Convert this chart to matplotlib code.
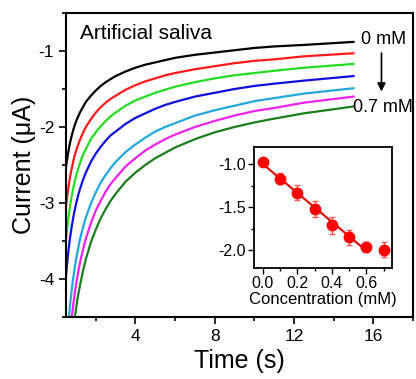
import matplotlib
matplotlib.use("Agg")
import matplotlib.pyplot as plt
from matplotlib.ticker import MultipleLocator, FormatStrFormatter
import numpy as np

plt.rcParams['font.family'] = ['Liberation Sans', 'DejaVu Sans']
plt.rcParams['axes.unicode_minus'] = False

# time points (s) and current traces (uA)
time = [0.5, 0.6, 0.7, 0.8, 0.9, 1.0, 1.1, 1.2, 1.35, 1.5, 1.75, 2, 2.25, 2.5,
        2.75, 3, 3.5, 4, 4.5, 5, 5.5, 6, 7, 8, 9, 10, 11, 12.5, 15]
i_0mM = [-2.52, -2.35, -2.21, -2.10, -2.01, -1.93, -1.87, -1.81, -1.74, -1.67,
         -1.59, -1.52, -1.46, -1.41, -1.37, -1.33, -1.27, -1.22, -1.18, -1.15,
         -1.12, -1.09, -1.05, -1.02, -0.99, -0.96, -0.94, -0.92, -0.88]
i_01mM = [-3.04, -2.83, -2.66, -2.53, -2.41, -2.32, -2.24, -2.17, -2.08, -2.00,
          -1.90, -1.81, -1.74, -1.68, -1.63, -1.59, -1.51, -1.45, -1.40, -1.36,
          -1.32, -1.29, -1.24, -1.20, -1.16, -1.13, -1.11, -1.07, -1.03]
i_02mM = [-3.48, -3.23, -3.04, -2.89, -2.76, -2.65, -2.56, -2.48, -2.37, -2.29,
          -2.16, -2.07, -1.99, -1.92, -1.86, -1.81, -1.72, -1.65, -1.60, -1.55,
          -1.51, -1.47, -1.41, -1.36, -1.32, -1.29, -1.26, -1.22, -1.17]
i_03mM = [-3.96, -3.68, -3.46, -3.29, -3.14, -3.02, -2.91, -2.82, -2.70, -2.60,
          -2.46, -2.35, -2.26, -2.18, -2.11, -2.06, -1.96, -1.88, -1.82, -1.76,
          -1.71, -1.67, -1.60, -1.55, -1.50, -1.46, -1.43, -1.39, -1.33]
i_04mM = [-5.01, -4.64, -4.35, -4.11, -3.92, -3.75, -3.61, -3.48, -3.33, -3.19,
          -3.01, -2.86, -2.73, -2.63, -2.54, -2.46, -2.33, -2.23, -2.14, -2.06,
          -2.00, -1.95, -1.85, -1.78, -1.72, -1.66, -1.62, -1.56, -1.49]
i_05mM = [-5.47, -5.06, -4.74, -4.48, -4.26, -4.08, -3.93, -3.79, -3.62, -3.47,
          -3.27, -3.10, -2.97, -2.85, -2.75, -2.67, -2.52, -2.41, -2.31, -2.23,
          -2.16, -2.10, -2.00, -1.92, -1.85, -1.79, -1.75, -1.68, -1.60]
i_07mM = [-5.89, -5.45, -5.10, -4.82, -4.59, -4.40, -4.23, -4.09, -3.90, -3.74,
          -3.52, -3.35, -3.20, -3.08, -2.97, -2.88, -2.72, -2.60, -2.50, -2.41,
          -2.34, -2.27, -2.16, -2.07, -2.00, -1.94, -1.89, -1.82, -1.73]

traces = [i_0mM, i_01mM, i_02mM, i_03mM, i_04mM, i_05mM, i_07mM]
colors = ['#000000', '#ff1a1a', '#22dd22', '#1010dd', '#22a8dd', '#ee22ee', '#1a7f1a']

# inset calibration
conc = [0.0, 0.1, 0.2, 0.3, 0.4, 0.5, 0.6, 0.7]
current = [-0.98, -1.17, -1.33, -1.52, -1.71, -1.85, -1.96, -1.99]
err = [0.03, 0.06, 0.09, 0.09, 0.10, 0.09, 0.06, 0.09]

fig = plt.figure(figsize=(4.16, 3.79), dpi=100)
ax = fig.add_axes([0.1587, 0.1636, 0.8341, 0.8021])

for y, c in zip(traces, colors):
    ax.plot(time, y, color=c, lw=1.6, solid_joinstyle='round')

ax.set_xlim(0.5, 18)
ax.set_ylim(-4.5, -0.5)
ax.xaxis.set_major_locator(MultipleLocator(4))
ax.xaxis.set_minor_locator(MultipleLocator(2))
ax.yaxis.set_major_locator(MultipleLocator(1))
ax.yaxis.set_minor_locator(MultipleLocator(0.5))
ax.tick_params(which='both', direction='out', width=1.2, labelsize=12.5,
               top=False, right=False)
ax.tick_params(which='major', length=5)
ax.tick_params(which='minor', length=3)
for s in ax.spines.values():
    s.set_linewidth(1.5)

ax.set_xlabel('Time (s)', fontsize=18, labelpad=4)
ax.set_ylabel('Current (μA)', fontsize=18, labelpad=2)

ax.text(1.21, -0.77, 'Artificial saliva', fontsize=15, va='center', ha='left')
ax.text(16.49, -0.85, '0 mM', fontsize=13, va='center', ha='center')
ax.text(16.46, -1.74, '0.7 mM', fontsize=13, va='center', ha='center')
ax.annotate('', xy=(16.41, -1.57), xytext=(16.41, -0.99),
            arrowprops=dict(arrowstyle='-|>', color='black', lw=1.2,
                            mutation_scale=12))

ins = fig.add_axes([0.6113, 0.2937, 0.3317, 0.3192])
ins.errorbar(conc, current, yerr=err, fmt='o', color='#ff0000', ms=7.5,
             ecolor='#ff5555', elinewidth=1, capsize=2.5, zorder=3)
m, b = np.polyfit(conc[:7], current[:7], 1)
xs = np.array([conc[0], conc[6]])
ins.plot(xs, m * xs + b, color='#dd0000', lw=1.5, zorder=2)
ins.set_xlim(-0.05, 0.75)
ins.set_ylim(-2.2, -0.8)
ins.xaxis.set_major_locator(MultipleLocator(0.2))
ins.xaxis.set_minor_locator(MultipleLocator(0.1))
ins.yaxis.set_major_locator(MultipleLocator(0.5))
ins.yaxis.set_minor_locator(MultipleLocator(0.25))
ins.xaxis.set_major_formatter(FormatStrFormatter('%.1f'))
ins.yaxis.set_major_formatter(FormatStrFormatter('%.1f'))
ins.tick_params(which='both', direction='out', width=1, labelsize=11.5,
                top=False, right=False, pad=2)
ins.tick_params(which='major', length=4)
ins.tick_params(which='minor', length=2.5)
for s in ins.spines.values():
    s.set_linewidth(1.3)
ins.set_xlabel('Concentration (mM)', fontsize=12, labelpad=1)

fig.savefig('out.png', dpi=100)
